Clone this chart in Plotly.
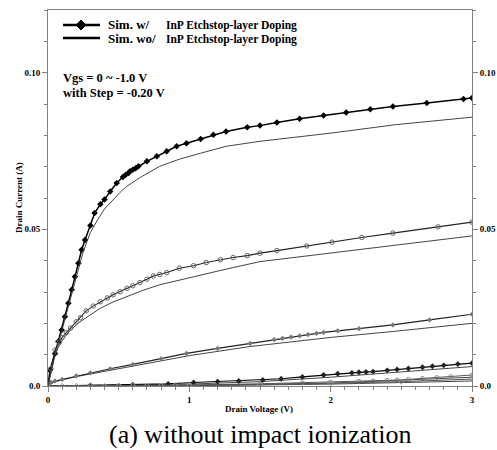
import plotly.graph_objects as go

# ---------------- data ----------------
# Vgs = 0 V, with etch-stop doping
v0_w = [0, 0.014, 0.05, 0.073, 0.097, 0.12, 0.144, 0.168, 0.19, 0.215, 0.238, 0.262, 0.30, 0.33, 0.37,
        0.40, 0.44, 0.486, 0.53, 0.55, 0.57, 0.58, 0.60, 0.62, 0.64, 0.70, 0.77, 0.84, 0.91, 0.98,
        1.08, 1.17, 1.26, 1.41, 1.50, 1.62, 1.78, 1.95, 2.11, 2.28, 2.44, 2.68, 2.94, 3.0]
i0_w = [0, 0.0051, 0.0104, 0.0142, 0.0179, 0.0221, 0.0264, 0.0307, 0.0349, 0.0392, 0.0435, 0.0466, 0.0512, 0.0552, 0.0580,
        0.0595, 0.0621, 0.0648, 0.0667, 0.0674, 0.0680, 0.0685, 0.0690, 0.0695, 0.0701, 0.0717, 0.0733, 0.0749, 0.0765, 0.0775,
        0.0788, 0.0802, 0.0812, 0.0826, 0.0831, 0.0841, 0.0853, 0.0863, 0.0873, 0.0883, 0.0892, 0.0903, 0.0916, 0.0919]
# Vgs = 0 V, without
v0_wo = [0, 0.05, 0.10, 0.15, 0.20, 0.25, 0.30, 0.35, 0.40, 0.46, 0.51, 0.557, 0.65, 0.79, 0.93, 1.08, 1.26, 1.50, 2.0, 2.46, 3.0]
i0_wo = [0, 0.0098, 0.0180, 0.0265, 0.0345, 0.0430, 0.0490, 0.0530, 0.0565, 0.0595, 0.0618, 0.0637, 0.0665, 0.0701, 0.0724,
         0.0743, 0.0765, 0.0781, 0.0807, 0.0834, 0.0858]

# Vgs = -0.2 V
v1_w = [0, 0.02, 0.05, 0.08, 0.10, 0.13, 0.16, 0.20, 0.23, 0.27, 0.32, 0.37, 0.42, 0.46, 0.51, 0.56, 0.60, 0.65,
        0.70, 0.745, 0.79, 0.84, 0.93, 1.03, 1.12, 1.22, 1.31, 1.41, 1.50, 1.62, 1.83, 2.01, 2.22, 2.44, 2.76, 3.0]
i1_w = [0, 0.0055, 0.0115, 0.0140, 0.0155, 0.0170, 0.0185, 0.0205, 0.0218, 0.0240, 0.0255, 0.0269, 0.0281, 0.0291,
        0.0301, 0.0312, 0.0320, 0.0330, 0.0341, 0.0351, 0.0356, 0.0362, 0.0376, 0.0384, 0.0394, 0.0403, 0.0410, 0.0416,
        0.0424, 0.0432, 0.0447, 0.0459, 0.0474, 0.0488, 0.0508, 0.0523]
v1_wo = [0, 0.05, 0.10, 0.15, 0.226, 0.30, 0.37, 0.46, 0.557, 0.67, 0.79, 1.03, 1.26, 1.50, 2.0, 2.5, 3.0]
i1_wo = [0, 0.0105, 0.0145, 0.0175, 0.0205, 0.0228, 0.0248, 0.0268, 0.0286, 0.0305, 0.0323, 0.0349, 0.0373, 0.0397,
         0.0425, 0.0453, 0.0479]

# Vgs = -0.4 V
v2_w = [0, 0.02, 0.05, 0.10, 0.20, 0.30, 0.44, 0.60, 0.80, 0.98, 1.20, 1.43, 1.60, 1.66, 1.72, 1.78, 1.84, 1.90,
        1.95, 2.05, 2.20, 2.44, 2.70, 3.0]
i2_w = [0, 0.0012, 0.0016, 0.0021, 0.0032, 0.0042, 0.0055, 0.0069, 0.0087, 0.0104, 0.0120, 0.0136, 0.0148, 0.0152,
        0.0156, 0.0160, 0.0164, 0.0168, 0.0171, 0.0176, 0.0183, 0.0195, 0.0211, 0.0229]
v2_wo = [0, 0.05, 0.20, 0.50, 1.00, 1.43, 2.00, 2.44, 3.0]
i2_wo = [0, 0.0014, 0.0030, 0.0055, 0.0097, 0.0126, 0.0155, 0.0174, 0.0200]

# Vgs = -0.6 V
v3_w = [0, 0.30, 0.60, 0.85, 1.03, 1.20, 1.35, 1.52, 1.65, 1.80, 1.95, 2.05, 2.15, 2.20, 2.25, 2.30, 2.40, 2.47,
        2.55, 2.65, 2.72, 2.80, 2.90, 3.0]
i3_w = [0, 0.0002, 0.0004, 0.0007, 0.0011, 0.0014, 0.0016, 0.0019, 0.0023, 0.0029, 0.0035, 0.0039, 0.0042, 0.0044,
        0.0045, 0.0046, 0.0050, 0.0053, 0.0056, 0.0060, 0.0063, 0.0066, 0.0070, 0.0073]
v3_wo = [0, 0.5, 1.0, 1.5, 2.0, 2.5, 3.0]
i3_wo = [0, 0.0002, 0.0006, 0.0014, 0.0028, 0.0045, 0.0062]

# Vgs = -0.8 V
v4_w = [0, 0.5, 1.0, 1.5, 1.8, 2.0, 2.2, 2.3, 2.4, 2.47, 2.55, 2.65, 2.75, 2.85, 3.0]
i4_w = [0, 0.0001, 0.0003, 0.0007, 0.0010, 0.0012, 0.0015, 0.0016, 0.0018, 0.0019, 0.0021, 0.0024, 0.0027, 0.0030, 0.0035]
v4_wo = [0, 1.0, 2.0, 3.0]
i4_wo = [0, 0.0002, 0.0009, 0.0028]

# Vgs = -1.0 V
v5_w = [0, 0.1, 0.2, 0.3, 0.4, 0.5, 0.6, 0.7, 0.8, 0.9, 1.0, 1.5, 2.0, 2.5, 3.0]
i5_w = [0, 0, 0, 0, 0, 0.0001, 0.0001, 0.0001, 0.0001, 0.0002, 0.0002, 0.0004, 0.0008, 0.0014, 0.0022]
v5_wo = [0, 1.0, 2.0, 3.0]
i5_wo = [0, 0.0001, 0.0006, 0.0016]

x_ticks = [0, 1, 2, 3]
x_ticktext = ["0", "1", "2", "3"]
y_ticks = [0, 0.05, 0.10]
y_ticktext = ["0.0", "0.05", "0.10"]

SERIF = "Liberation Serif, Times New Roman, serif"

fig = go.Figure()

# "without" thin lines
wo_sets = [(v0_wo, i0_wo), (v1_wo, i1_wo), (v2_wo, i2_wo), (v3_wo, i3_wo), (v4_wo, i4_wo), (v5_wo, i5_wo)]
for k, (vx, iy) in enumerate(wo_sets):
    fig.add_trace(go.Scatter(x=vx, y=iy, mode="lines", line=dict(color="#444444", width=1),
                             showlegend=False, hoverinfo="skip", yaxis="y2" if k == 0 else "y"))

# "with" lines + markers
w_sets = [
    (v0_w, i0_w, dict(symbol="diamond", size=5, color="black"), dict(color="black", width=1.5)),
    (v1_w, i1_w, dict(symbol="circle-open", size=4.5, color="#666666", line=dict(width=1)), dict(color="#222222", width=1.1)),
    (v2_w, i2_w, dict(symbol="diamond", size=4, color="#777777"), dict(color="#222222", width=1.1)),
    (v3_w, i3_w, dict(symbol="diamond", size=4.5, color="#222222"), dict(color="black", width=1.1)),
    (v4_w, i4_w, dict(symbol="circle-open", size=4, color="#888888", line=dict(width=1)), dict(color="#555555", width=1)),
    (v5_w, i5_w, dict(symbol="diamond-open", size=4, color="#999999", line=dict(width=1)), dict(color="#555555", width=1)),
]
for vx, iy, mk, ln in w_sets:
    fig.add_trace(go.Scatter(x=vx, y=iy, mode="lines+markers", line=ln, marker=mk,
                             showlegend=False, hoverinfo="skip"))

# plot-area geometry helpers (paper coordinates)
L, R, T, B = 48, 472, 10, 386
def px(xp):
    return (xp - L) / (R - L)
def py(yp):
    return (B - yp) / (B - T)

shapes = []
# legend line samples
for yy, w in [(25, 2.5), (38, 2.5)]:
    shapes.append(dict(type="line", xref="paper", yref="paper", x0=px(63), x1=px(100), y0=py(yy), y1=py(yy),
                       line=dict(color="black", width=w)))
# legend diamond
cx, cy, hw = 81, 25, 5
shapes.append(dict(type="path", xref="paper", yref="paper",
                   path=f"M {px(cx - hw)} {py(cy)} L {px(cx)} {py(cy - hw)} L {px(cx + hw)} {py(cy)} L {px(cx)} {py(cy + hw)} Z",
                   fillcolor="black", line=dict(color="black", width=1)))

ann = []
def text(x, y, s, size, bold=True, anchor="left"):
    ann.append(dict(xref="paper", yref="paper", x=px(x), y=py(y), text=f"<b>{s}</b>" if bold else s,
                    showarrow=False, xanchor=anchor, yanchor="middle",
                    font=dict(family=SERIF, size=size, color="black")))

text(106, 25, "Sim. w/", 13)
text(106, 38, "Sim. wo/", 13)
text(164, 26, "InP Etchstop-layer Doping", 11.5)
text(164, 39, "InP Etchstop-layer Doping", 11.5)
text(61, 78, "Vgs = 0 ~ -1.0 V", 12.5)
text(61, 93, "with Step = -0.20 V", 12.5)
text(260, 434, "(a) without impact ionization", 26, bold=False, anchor="center")
text(259, 409, "Drain Voltage (V)", 9, anchor="center")
ann.append(dict(xref="paper", yref="paper", x=px(19), y=py(198), text="<b>Drain Current (A)</b>",
                showarrow=False, textangle=-90, xanchor="center", yanchor="middle",
                font=dict(family=SERIF, size=9, color="black")))

axis_common = dict(showgrid=False, zeroline=False, showline=True, linecolor="#808080", linewidth=1,
                   ticks="outside", tickcolor="#808080", ticklen=5, tickwidth=1, automargin=False,
                   tickfont=dict(family=SERIF, size=9, color="black"))

fig.update_layout(
    width=497, height=450,
    margin=dict(l=L, r=497 - R, t=T, b=450 - B, autoexpand=False),
    paper_bgcolor="white", plot_bgcolor="white",
    showlegend=False,
    shapes=shapes, annotations=ann,
    xaxis=dict(range=[0, 3], tickmode="array", tickvals=x_ticks, ticktext=[f"<b>{t}</b>" for t in x_ticktext],
               mirror=True,
               minor=dict(tickmode="array", tickvals=[k / 10 for k in range(31)], ticks="outside", ticklen=3,
                          tickcolor="#808080"),
               **axis_common),
    yaxis=dict(range=[0, 0.12], tickmode="array", tickvals=y_ticks, ticktext=[f"<b>{t}</b>" for t in y_ticktext],
               minor=dict(tickmode="array", tickvals=[k / 100 for k in range(13)], ticks="outside", ticklen=3,
                          tickcolor="#808080"),
               **axis_common),
    yaxis2=dict(range=[0, 0.12], overlaying="y", side="right", anchor="x", matches="y",
                tickmode="array", tickvals=y_ticks, ticktext=[f"<b>{t}</b>" for t in y_ticktext],
                minor=dict(tickmode="array", tickvals=[k / 100 for k in range(13)], ticks="outside", ticklen=3,
                           tickcolor="#808080"),
                **axis_common),
)

fig.write_html("out.html", config={"displayModeBar": False},
               post_script="document.body.style.margin='0';document.body.style.padding='0';")
